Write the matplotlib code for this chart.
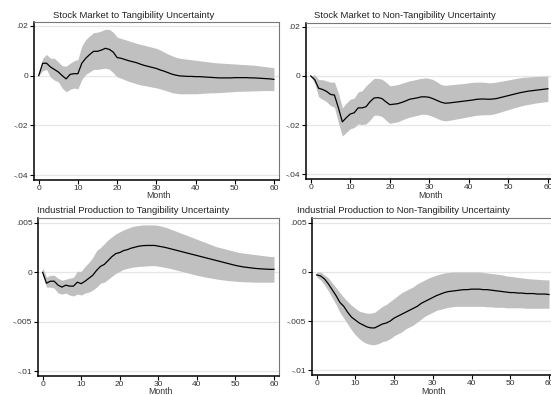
import numpy as np
import matplotlib.pyplot as plt

plt.rcParams['font.family'] = ['Liberation Sans', 'DejaVu Sans']

months = np.arange(61)

# Stock market response to tangibility uncertainty (x 1e-3)
sm_tan_irf = [0, 5, 5, 3.5, 2.5, 1.5, 0, -1.3, 0.5, 0.8, 0.8, 5, 7, 8.5, 9.8, 9.8, 10.3, 11, 10.6, 9.5,
              7.3, 7, 6.5, 6, 5.6, 5.2, 4.6, 4.1, 3.7, 3.3, 2.9, 2.3, 1.8, 1.2, 0.6, 0.2, -0.1, -0.2, -0.3, -0.3,
              -0.4, -0.4, -0.5, -0.6, -0.7, -0.8, -0.9, -0.9, -0.9, -0.9, -0.8, -0.8, -0.8, -0.8, -0.9, -0.9,
              -1.0, -1.1, -1.2, -1.3, -1.5]
sm_tan_hi = [0, 7, 8.5, 7, 7, 5.5, 4, 3.8, 5, 6, 6.5, 12, 14.5, 16, 17.3, 17.5, 18, 18.7, 18.6, 17.5,
             15.5, 15, 14.5, 14, 13.5, 13, 12.6, 12.2, 11.8, 11.4, 11, 10.3, 9.5, 8.7, 8, 7.4, 7, 6.8, 6.6, 6.4,
             6.2, 6.0, 5.8, 5.6, 5.4, 5.2, 5.1, 5.0, 4.9, 4.8, 4.7, 4.6, 4.5, 4.4, 4.3, 4.2, 4.0, 3.8, 3.6,
             3.4, 3.2]
sm_tan_lo = [0, 2, 2.5, -0.5, -1.8, -2.5, -5, -6.5, -5.5, -5, -5.3, -1.5, 0.5, 1.5, 2.5, 2.5, 2.8, 3, 2.6, 1.2,
             -0.5, -1, -1.7, -2.3, -2.8, -3.3, -3.7, -4, -4.3, -4.6, -4.9, -5.3, -5.8, -6.3, -6.8, -7.1, -7.3,
             -7.3, -7.3, -7.3, -7.3, -7.2, -7.1, -7.0, -6.9, -6.9, -6.8, -6.7, -6.6, -6.5, -6.4, -6.3, -6.3,
             -6.2, -6.2, -6.1, -6.1, -6.0, -6.0, -6.0, -6.0]

# Stock market response to non-tangibility uncertainty (x 1e-3)
sm_non_irf = [0, -1.5, -5, -5.5, -6.3, -7.5, -7.8, -13, -18.7, -17, -15.5, -15, -13, -13, -12.5, -10.5, -9,
              -8.8, -9.2, -10.5, -11.7, -11.5, -11.3, -10.8, -10.2, -9.5, -9.2, -8.9, -8.5, -8.5, -8.7, -9.3,
              -10, -10.7, -11.1, -11, -10.8, -10.6, -10.4, -10.2, -10, -9.8, -9.5, -9.4, -9.4, -9.5, -9.4, -9.2,
              -8.8, -8.4, -8, -7.6, -7.2, -6.8, -6.5, -6.2, -6.0, -5.8, -5.6, -5.4, -5.2]
sm_non_hi = [0, 0.5, -1.5, -1.5, -2, -2.5, -2.5, -7, -13, -11, -9.5, -9, -6.5, -6, -4, -2.5, -1, -1, -1.3,
             -2.5, -4, -3.8, -3.5, -3, -2.5, -2, -1.7, -1.3, -1, -0.8, -1, -1.5, -2.5, -3.5, -3.8, -3.7, -3.5,
             -3.3, -3.2, -3, -2.8, -2.6, -2.5, -2.5, -2.6, -2.8, -2.7, -2.5, -2.2, -1.9, -1.6, -1.3, -1.0,
             -0.7, -0.5, -0.4, -0.3, -0.2, -0.1, -0.1, 0]
sm_non_lo = [0, -3, -8.5, -9.5, -10.5, -12, -12.8, -19, -24.5, -23, -21.5, -21, -19.5, -19.8, -19.5, -18, -16,
             -16, -16.5, -18, -19.3, -19, -18.7, -18, -17.3, -16.8, -16.4, -16, -15.6, -15.6, -16, -16.6,
             -17.3, -18, -18.3, -18.1, -17.8, -17.5, -17.2, -16.9, -16.6, -16.3, -16, -15.9, -15.8, -15.8,
             -15.6, -15.2, -14.7, -14.2, -13.7, -13.2, -12.7, -12.3, -11.9, -11.6, -11.3, -11, -10.8, -10.6,
             -10.4]

# Industrial production response to tangibility uncertainty (x 1e-3)
ip_tan_irf = [0, -1.1, -0.9, -0.9, -1.3, -1.5, -1.3, -1.4, -1.4, -1.0, -1.15, -0.9, -0.6, -0.3, 0.2, 0.6,
              0.8, 1.2, 1.6, 1.9, 2.0, 2.2, 2.3, 2.45, 2.55, 2.65, 2.7, 2.72, 2.72, 2.72, 2.65, 2.58, 2.5, 2.4,
              2.3, 2.2, 2.1, 2.0, 1.9, 1.8, 1.7, 1.6, 1.5, 1.4, 1.3, 1.2, 1.1, 1.0, 0.9, 0.8, 0.7, 0.62, 0.55,
              0.5, 0.45, 0.4, 0.37, 0.34, 0.32, 0.3, 0.3]
ip_tan_hi = [0.5, -0.5, -0.3, -0.3, -0.6, -0.8, -0.7, -0.6, -0.5, 0.1, 0.1, 0.6, 1.0, 1.5, 2.2, 2.5, 2.9, 3.3,
             3.6, 3.9, 4.1, 4.3, 4.45, 4.6, 4.7, 4.75, 4.8, 4.8, 4.8, 4.8, 4.75, 4.65, 4.55, 4.4, 4.25, 4.1,
             3.95, 3.8, 3.65, 3.5, 3.35, 3.2, 3.05, 2.9, 2.75, 2.6, 2.5, 2.4, 2.3, 2.2, 2.1, 2.0, 1.95, 1.9,
             1.85, 1.8, 1.75, 1.7, 1.65, 1.6, 1.6]
ip_tan_lo = [-0.3, -1.5, -1.5, -1.6, -2.1, -2.2, -2.1, -2.3, -2.4, -2.2, -2.3, -2.1, -2.0, -1.8, -1.5, -1.1,
             -1.0, -0.7, -0.4, -0.1, 0.1, 0.3, 0.4, 0.5, 0.55, 0.6, 0.62, 0.65, 0.67, 0.68, 0.62, 0.55, 0.48,
             0.4, 0.3, 0.2, 0.1, 0.0, -0.1, -0.2, -0.3, -0.38, -0.46, -0.54, -0.6, -0.67, -0.73, -0.78, -0.83,
             -0.87, -0.9, -0.93, -0.95, -0.97, -0.98, -1.0, -1.0, -1.0, -1.0, -1.0, -1.0]

# Industrial production response to non-tangibility uncertainty (x 1e-3)
ip_non_irf = [-0.3, -0.4, -0.7, -1.2, -1.8, -2.4, -3.1, -3.5, -4.1, -4.6, -4.9, -5.2, -5.4, -5.6, -5.7, -5.7,
              -5.5, -5.3, -5.2, -5.0, -4.7, -4.5, -4.3, -4.1, -3.9, -3.7, -3.5, -3.2, -3.0, -2.8, -2.6, -2.4,
              -2.25, -2.1, -2.0, -1.95, -1.9, -1.85, -1.8, -1.8, -1.75, -1.75, -1.75, -1.8, -1.8, -1.85, -1.9,
              -1.95, -2.0, -2.05, -2.1, -2.1, -2.15, -2.15, -2.2, -2.2, -2.2, -2.25, -2.25, -2.25, -2.3]
ip_non_hi = [0, 0, -0.3, -0.6, -1.1, -1.6, -2.1, -2.6, -3.0, -3.4, -3.7, -4.0, -4.1, -4.2, -4.2, -4.1, -3.8,
             -3.5, -3.3, -3.0, -2.7, -2.4, -2.1, -1.9, -1.7, -1.5, -1.2, -1.0, -0.8, -0.6, -0.45, -0.3, -0.2,
             -0.1, -0.05, 0, 0, 0, 0, 0, 0, 0, 0, -0.05, -0.1, -0.15, -0.2, -0.25, -0.3, -0.4, -0.45, -0.5,
             -0.55, -0.6, -0.65, -0.7, -0.72, -0.75, -0.78, -0.8, -0.8]
ip_non_lo = [-0.5, -0.8, -1.3, -1.9, -2.6, -3.3, -4.1, -4.7, -5.3, -5.9, -6.4, -6.8, -7.1, -7.3, -7.4, -7.4,
             -7.3, -7.1, -7.0, -6.8, -6.5, -6.3, -6.1, -5.8, -5.6, -5.4, -5.1, -4.8, -4.5, -4.3, -4.1, -3.9,
             -3.8, -3.7, -3.6, -3.55, -3.5, -3.5, -3.5, -3.5, -3.5, -3.5, -3.5, -3.5, -3.55, -3.55, -3.6, -3.6,
             -3.6, -3.65, -3.65, -3.65, -3.65, -3.65, -3.7, -3.7, -3.7, -3.7, -3.7, -3.7, -3.7]

titles = ['Stock Market to Tangibility Uncertainty', 'Stock Market to Non-Tangibility Uncertainty',
          'Industrial Production to Tangibility Uncertainty',
          'Industrial Production to Non-Tangibility Uncertainty']
sm_ticks = [0.02, 0, -0.02, -0.04]
sm_labels = ['.02', '0', '-.02', '-.04']
ip_ticks = [0.005, 0, -0.005, -0.01]
ip_labels = ['.005', '0', '-.005', '-.01']
x_ticks = [0, 10, 20, 30, 40, 50, 60]

W, H = 551, 395
fig = plt.figure(figsize=(W / 100, H / 100), dpi=100)


def px_axes(left, top, right, bottom):
    return fig.add_axes([left / W, 1 - bottom / H, (right - left) / W, (bottom - top) / H])


panels = [
    # (axes box in px, title centre px, month label y px, irf, hi, lo, ylim, ticks, labels)
    ((34, 22, 279, 180), (134, 15), 195.5, sm_tan_irf, sm_tan_hi, sm_tan_lo, (-0.042, 0.0216), sm_ticks, sm_labels),
    ((306, 23, 553, 179), (405, 15), 195.5, sm_non_irf, sm_non_hi, sm_non_lo, (-0.042, 0.0216), sm_ticks, sm_labels),
    ((38, 218, 279, 376), (133, 211), 391, ip_tan_irf, ip_tan_hi, ip_tan_lo, (-0.0105, 0.0055), ip_ticks, ip_labels),
    ((312, 218, 554, 375), (403, 211), 391, ip_non_irf, ip_non_hi, ip_non_lo, (-0.0105, 0.0055), ip_ticks, ip_labels),
]

for (box, tpos, month_y, irf, hi, lo, ylim, ticks, labels), title in zip(panels, titles):
    ax = px_axes(*box)
    irf = np.array(irf) * 1e-3
    hi = np.array(hi) * 1e-3
    lo = np.array(lo) * 1e-3
    for t in ticks:
        ax.axhline(t, color='#e6e6e6', lw=0.9, zorder=0)
    ax.fill_between(months, lo, hi, color='#c0c0c0', lw=0, zorder=1)
    ax.plot(months, irf, color='black', lw=0.9, zorder=2)
    ax.set_xlim(-1.2, 61.3)
    ax.set_ylim(*ylim)
    ax.set_xticks(x_ticks)
    ax.set_yticks(ticks)
    ax.set_yticklabels(labels)
    ax.tick_params(labelsize=6, length=3, width=0.8, pad=1, labelcolor='#333333')
    ax.tick_params(axis='x', pad=0.5)
    for side in ['left', 'bottom']:
        ax.spines[side].set_linewidth(1.1)
        ax.spines[side].set_color('black')
    for side in ['top', 'right']:
        ax.spines[side].set_linewidth(0.8)
        ax.spines[side].set_color('#777777')
    # x-axis title placed under the centre of the plot area
    mid_x = (box[0] + min(box[2], W)) / 2 + 2
    fig.text(mid_x / W, 1 - month_y / H, 'Month', fontsize=6.3, ha='center', va='center', color='#333333')
    fig.text(tpos[0] / W, 1 - tpos[1] / H, title, fontsize=6.8, ha='center', va='center', color='#222222')

fig.savefig('out.png', dpi=100)
